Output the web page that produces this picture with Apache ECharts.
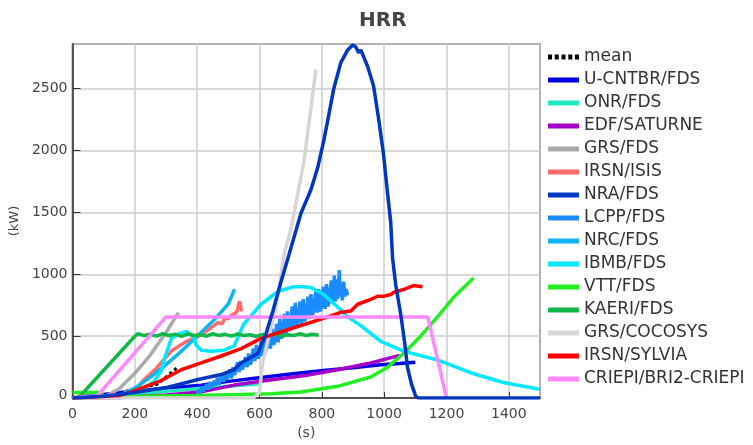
<!DOCTYPE html>
<html><head><meta charset="utf-8">
<script src="https://cdn.jsdelivr.net/npm/echarts@6/dist/echarts.min.js"></script>
<style>html,body{margin:0;padding:0;background:#fff}#c{width:753px;height:445px}</style>
</head><body><div id="c"></div>
<script>
const seriesNames = ['mean','U-CNTBR/FDS','ONR/FDS','EDF/SATURNE','GRS/FDS','IRSN/ISIS','NRA/FDS','LCPP/FDS','NRC/FDS','IBMB/FDS','VTT/FDS','KAERI/FDS','GRS/COCOSYS','IRSN/SYLVIA','CRIEPI/BRI2-CRIEPI'];
const xTicks = [0,200,400,600,800,1000,1200,1400];
const yTicks = [0,500,1000,1500,2000,2500];

const mean = [[0,0],[50,18],[100,30],[160,50],[210,75],[270,110],[300,170],[340,255]];
const uCntbr = [[0,0],[100,30],[200,55],[300,80],[413,103],[500,135],[605,166],[700,195],[797,221],[900,245],[989,269],[1050,280],[1100,290]];
const onr = [[0,0],[100,15],[200,35],[300,55],[400,75],[500,95],[600,115]];
const edf = [[0,0],[150,5],[300,25],[413,50],[519,105],[627,145],[742,180],[851,229],[957,284],[1050,345]];
const grsFds = [[0,0],[100,5],[150,75],[200,200],[250,350],[300,530],[340,690]];
const irsnIsis = [[0,0],[150,5],[200,60],[230,150],[265,230],[317,380],[360,450],[413,510],[440,560],[466,610],[480,600],[490,650],[500,640],[510,670],[519,680],[528,700],[533,760],[537,780],[542,700]];
const nra = [[0,0],[100,15],[200,45],[300,85],[403,150],[477,190],[518,229],[541,284],[595,363],[621,521],[643,703],[669,940],[694,1153],[733,1493],[765,1683],[787,1864],[806,2078],[822,2283],[838,2496],[861,2710],[883,2812],[899,2852],[909,2836],[918,2789],[925,2812],[947,2678],[966,2520],[982,2259],[998,1967],[1011,1651],[1021,1420],[1027,1130],[1037,916],[1053,679],[1066,442],[1075,245],[1088,111],[1101,16],[1110,0],[1500,0]];
const lcpp = [[400,30],[405,70],[410,40],[415,95],[420,55],[425,60],[430,110],[435,70],[440,130],[445,80],[450,75],[455,140],[460,100],[465,165],[470,110],[475,120],[480,190],[485,130],[490,205],[495,150],[500,140],[505,230],[510,160],[515,250],[520,185],[525,200],[530,290],[535,210],[540,300],[545,230],[550,240],[555,330],[560,250],[565,360],[570,270],[575,300],[580,400],[585,300],[590,430],[595,320],[600,350],[605,460],[610,340],[615,500],[620,380],[625,420],[630,540],[635,400],[640,560],[645,430],[650,470],[655,600],[660,450],[665,640],[670,480],[675,530],[680,680],[685,500],[690,700],[695,540],[700,600],[705,740],[710,560],[715,770],[720,580],[725,640],[730,780],[735,600],[740,800],[745,620],[750,680],[755,820],[760,640],[765,840],[770,670],[775,720],[780,860],[785,690],[790,880],[795,700],[800,760],[805,900],[810,720],[815,920],[820,740],[825,800],[830,950],[835,760],[840,990],[843,780],[846,960],[850,800],[853,870],[856,1035],[859,820],[862,900],[866,790],[870,940],[874,820],[878,880],[882,830]];
const nrc = [[0,0],[150,20],[200,80],[250,170],[300,270],[350,380],[400,500],[450,620],[500,760],[520,880]];
const ibmb = [[0,0],[200,30],[260,130],[285,220],[294,308],[317,482],[342,521],[365,537],[387,506],[397,427],[413,387],[445,379],[486,387],[518,419],[550,600],[605,758],[659,861],[710,900],[742,900],[765,893],[806,837],[851,735],[883,656],[925,585],[989,458],[1062,379],[1171,308],[1277,205],[1382,126],[1500,71]];
const vtt = [[0,45],[90,45],[100,10],[400,20],[637,35],[733,50],[851,95],[957,170],[1011,250],[1062,360],[1117,500],[1171,656],[1223,814],[1287,970]];
const kaeri = [[0,5],[20,5],[200,500],[210,520],[230,505],[250,515],[270,500],[290,520],[310,505],[330,515],[350,498],[370,518],[390,505],[410,512],[430,500],[450,520],[470,505],[490,515],[510,500],[530,518],[550,505],[570,512],[590,498],[610,515],[630,505],[650,518],[670,500],[690,512],[710,505],[730,520],[750,505],[770,515],[790,508]];
const grsCocosys = [[0,0],[580,0],[600,50],[610,290],[650,700],[678,1150],[703,1390],[743,1917],[781,2654]];
const irsnSylvia = [[0,0],[150,20],[200,60],[285,142],[349,229],[413,284],[477,340],[541,400],[605,482],[700,560],[800,640],[861,693],[893,703],[915,758],[957,798],[979,822],[998,822],[1021,837],[1030,853],[1062,877],[1094,909],[1123,900]];
const criepi = [[0,0],[80,20],[300,655],[1140,655],[1200,0]];

const colors = ['#000000','#0000e6','#20e8c0','#a600c8','#aaaaaa','#ff6b6b','#0037c0','#1a8cff','#10b4f0','#00e8ff','#20f020','#10b848','#d6d6d6','#ff0000','#ff88ff'];
const datas = [mean,uCntbr,onr,edf,grsFds,irsnIsis,nra,lcpp,nrc,ibmb,vtt,kaeri,grsCocosys,irsnSylvia,criepi];

const series = seriesNames.map((n,i)=>({
  name:n, type:'line', data:datas[i], symbol:'none', smooth:false,
  lineStyle:{color:colors[i], width: i===0?3:3.5, type: i===0?'dotted':'solid'},
  itemStyle:{color:colors[i]},
  z: i===6?5:2
}));

const dotIcon = 'path://M0,0h4v5h-4zM6.75,0h4v5h-4zM13.5,0h4v5h-4zM20.25,0h4v5h-4zM27,0h4v5h-4z';
const legendData = seriesNames.map((n,i)=>({name:n, icon: i===0?dotIcon:'rect'}));

const chart = echarts.init(document.getElementById('c'));
chart.setOption({
  animation:false,
  backgroundColor:'#fff',
  title:{text:'HRR', left:359, top:11, padding:0, textStyle:{fontFamily:'DejaVu Sans', fontSize:20, fontWeight:'bold', color:'#444'}},
  grid:{left:71, top:44, width:469, height:362, show:true, borderColor:'#333', borderWidth:1.5},
  legend:{orient:'vertical', left:548, top:48.5, padding:0, itemWidth:31, itemHeight:5, itemGap:6,
    data:legendData,
    textStyle:{fontFamily:'DejaVu Sans', fontSize:17, color:'#333'}},
  xAxis:{type:'value', min:xTicks[0], max:1500, interval:xTicks[1]-xTicks[0],
    name:'(s)', nameLocation:'middle', nameGap:26, nameTextStyle:{fontFamily:'DejaVu Sans', fontSize:14, color:'#444'},
    axisLine:{show:true, lineStyle:{color:'#333', width:1.5}},
    axisTick:{show:true, inside:true, length:6, lineStyle:{color:'#333'}},
    axisLabel:{fontFamily:'DejaVu Sans', fontSize:14, color:'#444', margin:9, showMaxLabel:false,
      formatter:v=>xTicks.includes(v)?String(v):''},
    splitLine:{show:true, lineStyle:{color:'#cccccc', width:1.5}}},
  yAxis:{type:'value', min:yTicks[0], max:2860, interval:yTicks[1]-yTicks[0],
    name:'(kW)', nameLocation:'middle', nameGap:46, nameRotate:90, nameTextStyle:{fontFamily:'DejaVu Sans', fontSize:13, color:'#444'},
    axisLine:{show:true, lineStyle:{color:'#333', width:1.5}},
    axisTick:{show:true, inside:true, length:8, lineStyle:{color:'#333'}},
    axisLabel:{fontFamily:'DejaVu Sans', fontSize:14, color:'#444', margin:5, showMaxLabel:false,
      formatter:v=>yTicks.includes(v)?(v===0?'{z|0}':String(v)):'',
      rich:{z:{fontFamily:'DejaVu Sans', fontSize:14, color:'#444', padding:[0,0,6,0]}}},
    splitLine:{show:true, lineStyle:{color:'#cccccc', width:1.5}}},
  series:series
});
</script></body></html>
